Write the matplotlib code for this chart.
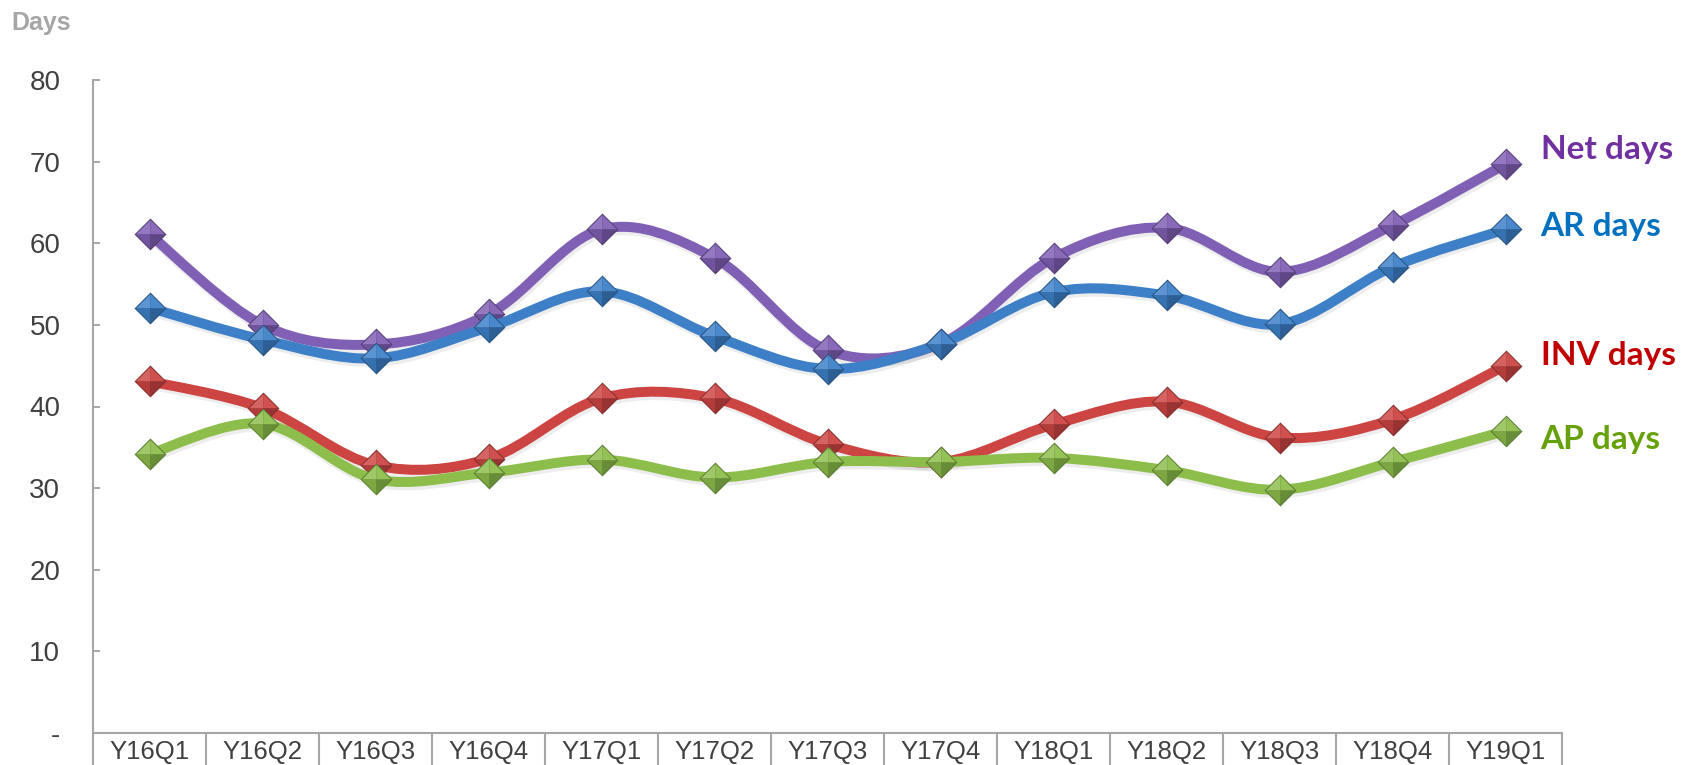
import numpy as np
import matplotlib
matplotlib.use('Agg')
import matplotlib.pyplot as plt
from matplotlib.path import Path
from matplotlib.patches import PathPatch
from matplotlib.colors import to_rgb
import matplotlib.transforms as mtransforms

quarters = ['Y16Q1', 'Y16Q2', 'Y16Q3', 'Y16Q4', 'Y17Q1', 'Y17Q2', 'Y17Q3',
            'Y17Q4', 'Y18Q1', 'Y18Q2', 'Y18Q3', 'Y18Q4', 'Y19Q1']
net_days = [61.1, 50.0, 47.6, 51.3, 61.7, 58.2, 46.9, 47.7, 58.2, 61.9, 56.5, 62.2, 69.7]
ar_days = [52.1, 48.2, 45.9, 49.7, 54.1, 48.6, 44.6, 47.7, 54.0, 53.6, 50.1, 57.1, 61.7]
inv_days = [43.1, 39.8, 32.8, 33.6, 41.0, 41.0, 35.4, 33.2, 37.8, 40.6, 36.2, 38.4, 45.0]
ap_days = [34.2, 37.9, 31.1, 31.9, 33.5, 31.3, 33.2, 33.2, 33.7, 32.2, 29.8, 33.2, 37.0]
yticks = [0, 10, 20, 30, 40, 50, 60, 70, 80]
ytick_labels = ['-', '10', '20', '30', '40', '50', '60', '70', '80']
series_names = ['Net days', 'AR days', 'INV days', 'AP days']
label_pos_y = [71.5, 62.1, 46.3, 36.0]

line_colors = ['#8060B4', '#3D80C8', '#CC4543', '#8DBE4B']
text_colors = ['#7030A0', '#0070C0', '#C00000', '#67A10A']

W, H = 1694, 765
fig = plt.figure(figsize=(W / 100, H / 100), dpi=100)
ax = fig.add_axes([93 / W, 1 - 733 / H, (1562 - 93) / W, (733 - 80) / H])

x = np.arange(len(quarters))


def smooth_path(xv, yv):
    pts = np.column_stack([xv, yv]).astype(float)
    n = len(pts)
    verts = [pts[0]]
    codes = [Path.MOVETO]
    for i in range(n - 1):
        p0 = pts[max(i - 1, 0)]
        p1 = pts[i]
        p2 = pts[i + 1]
        p3 = pts[min(i + 2, n - 1)]
        c1 = p1 + (p2 - p0) / 6.0
        c2 = p2 - (p3 - p1) / 6.0
        verts += [c1, c2, p2]
        codes += [Path.CURVE4] * 3
    return Path(verts, codes)


def shade(c, f):
    r = np.array(to_rgb(c))
    if f >= 0:
        r = r + (1 - r) * f
    else:
        r = r * (1 + f)
    return tuple(np.clip(r, 0, 1))


facets = [
    (Path([(0, 0), (-1, 0), (0, 1), (0, 0)]), 0.16),   # top-left
    (Path([(0, 0), (0, 1), (1, 0), (0, 0)]), 0.06),    # top-right
    (Path([(0, 0), (-1, 0), (0, -1), (0, 0)]), -0.12),  # bottom-left
    (Path([(0, 0), (0, -1), (1, 0), (0, 0)]), -0.26),  # bottom-right
]
diamond = Path([(0, 1), (1, 0), (0, -1), (-1, 0), (0, 1)])

all_series = [net_days, ar_days, inv_days, ap_days]
for k, (vals, col) in enumerate(zip(all_series, line_colors)):
    z = 2 + k * 3
    shadow = PathPatch(smooth_path(x, vals), facecolor='none', edgecolor=(0, 0, 0, 0.07),
                       lw=8.5, capstyle='round', joinstyle='round', zorder=z - 0.5,
                       transform=ax.transData + mtransforms.Affine2D().translate(1.5, -2.5))
    ax.add_patch(shadow)
    patch = PathPatch(smooth_path(x, vals), facecolor='none', edgecolor=col, lw=7.2,
                      capstyle='round', joinstyle='round', zorder=z)
    ax.add_patch(patch)
    ax.plot(x, vals, linestyle='none', marker=diamond, markersize=23,
            markerfacecolor=shade(col, -0.35), markeredgewidth=0, zorder=z + 0.5)
    for fp, f in facets:
        ax.plot(x, vals, linestyle='none', marker=fp, markersize=21,
                markerfacecolor=shade(col, f), markeredgewidth=0, zorder=z + 1)

for name, yv, tc in zip(series_names, label_pos_y, text_colors):
    ax.text(12.31, yv, name, ha='left', va='center', fontsize=24, fontweight='bold',
            family=['Lato', 'DejaVu Sans'], color=tc, clip_on=False)

ax.set_xlim(-0.5, len(quarters) - 0.5)
ax.set_ylim(0, 80)
ax.set_yticks(yticks)
ax.set_yticklabels(ytick_labels, family=['Liberation Sans', 'DejaVu Sans'])
ax.set_xticks([])
ax.tick_params(axis='y', direction='in', length=5, width=1.3, color='#A0A0A0',
               pad=23.5, labelsize=20, labelcolor='#404040')

for s in ['top', 'right']:
    ax.spines[s].set_visible(False)
for s in ['left', 'bottom']:
    ax.spines[s].set_color('#A6A6A6')
    ax.spines[s].set_linewidth(1.5)

trans = mtransforms.blended_transform_factory(ax.transData, ax.transAxes)
for b in np.arange(-0.5, len(quarters), 1.0):
    ax.plot([b, b], [0, -0.08], transform=trans, color='#A6A6A6', lw=1.5,
            clip_on=False, zorder=1)
for i, q in enumerate(quarters):
    ax.text(i, -0.029, q, transform=trans, ha='center', va='center', fontsize=18.5,
            family=['Liberation Sans', 'DejaVu Sans'], color='#404040', clip_on=False)

fig.text(11 / W, 1 - 23 / H, 'Days', ha='left', va='center', fontsize=18, fontweight='bold',
         family=['Liberation Sans', 'DejaVu Sans'], color='#A6A6A6')

fig.savefig('out.png', dpi=100)
